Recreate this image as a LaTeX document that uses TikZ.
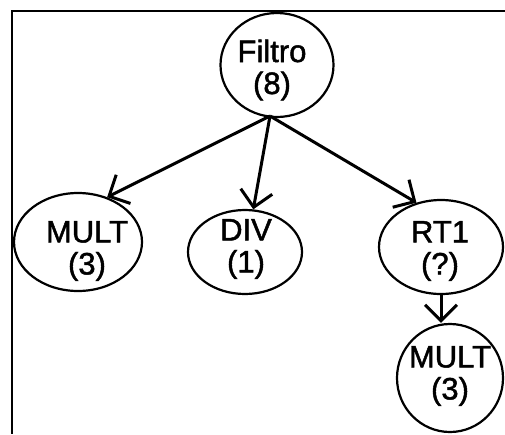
\documentclass[tikz,border=0pt]{standalone}
\usepackage{fontspec}
\setmainfont{Liberation Sans}[FakeBold=1.5]
\usetikzlibrary{shapes.geometric,arrows.meta}
\begin{document}
\begin{tikzpicture}[x=1pt,y=-1pt,
  oval/.style={draw,ellipse,line width=2.2pt,inner sep=0pt},
  lbl/.style={align=center,inner sep=0pt,font=\fontsize{31}{32}\selectfont},
  arr/.style={line width=3pt,-{Straight Barb[length=16pt,width=32pt,line width=3pt]}},
  frame/.style={line width=2.2pt}]
\fill[white] (0,0) rectangle (505,434);
\useasboundingbox (0,0) rectangle (505,434);
\coordinate (tl) at (12,11);
\coordinate (tr) at (505,11);
\coordinate (bl) at (12,434);
\draw[frame] (tr) -- (tl) -- (bl);
\node[oval,minimum width=113pt,minimum height=104pt] (F) at (277,65) {};
\node[oval,minimum width=128pt,minimum height=98pt] (M1) at (78,242) {};
\node[oval,minimum width=114pt,minimum height=84pt] (D) at (245,252) {};
\node[oval,minimum width=124pt,minimum height=94pt] (R) at (441,247) {};
\node[oval,minimum width=106pt,minimum height=108pt] (M2) at (450,378) {};
\node[lbl] (tF) at (272,70) {Filtro\\(8)};
\node[lbl] (tM1) at (87,251) {MULT\\(3)};
\node[lbl] (tD) at (246,249) {DIV\\(1)};
\node[lbl] (tR) at (440,251) {RT1\\(?)};
\node[lbl] (tM2) at (450,376) {MULT\\(3)};
\coordinate (fs) at (270,116);
\draw[arr] (fs) -- (M1.57);
\draw[arr] (fs) -- (D.79);
\draw[arr] (fs) -- (R.119);
\draw[arr] (R.south) -- (R.south |- M2.north);
\end{tikzpicture}
\end{document}
